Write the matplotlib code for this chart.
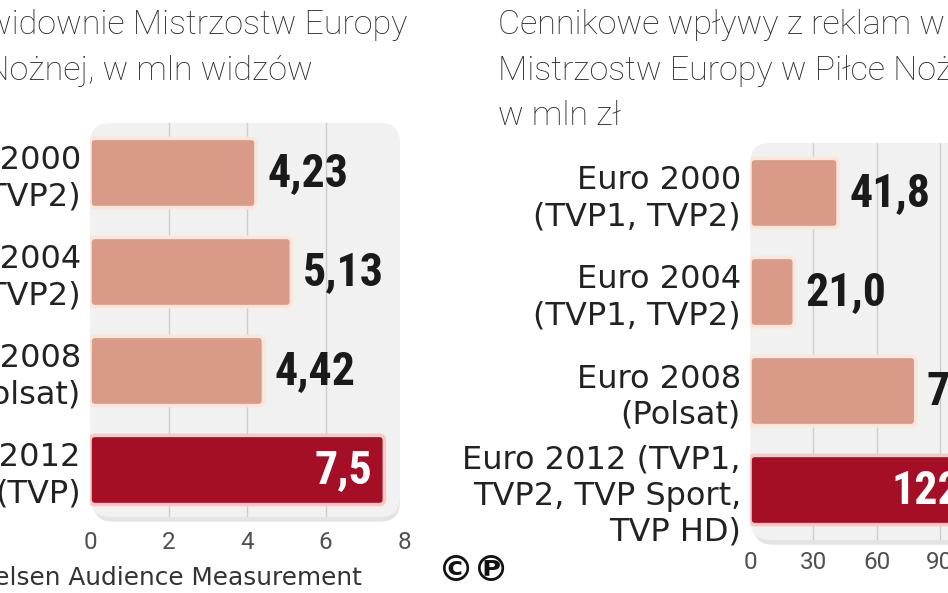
import numpy as np
import matplotlib
matplotlib.use('Agg')
from matplotlib import pyplot as plt
from matplotlib import font_manager as fm
from matplotlib.patches import FancyBboxPatch

W, H = 948, 593

# data
cats_left = ['Euro 2000\n(TVP1, TVP2)', 'Euro 2004\n(TVP1, TVP2)',
             'Euro 2008\n(Polsat)', 'Euro 2012\n(TVP)']
viewers = [4.23, 5.13, 4.42, 7.5]
viewers_lbl = ['4,23', '5,13', '4,42', '7,5']
ticks_left = [0, 2, 4, 6, 8]

cats_right = ['Euro 2000\n(TVP1, TVP2)', 'Euro 2004\n(TVP1, TVP2)',
              'Euro 2008\n(Polsat)', 'Euro 2012 (TVP1,\nTVP2, TVP Sport,\nTVP HD)']
revenue = [41.8, 21.0, 78.6, 122.6]
revenue_lbl = ['41,8', '21,0', '78,6', '122,6']
ticks_right = [0, 30, 60, 90, 120]

highlight = [False, False, False, True]

names = {f.name for f in fm.fontManager.ttflist}
def pick(*cands):
	for n in cands:
		if n in names:
			return n
	return 'DejaVu Sans'

COND = pick('Roboto Condensed', 'Liberation Sans Narrow', 'DejaVu Sans')
TITLE = pick('Roboto', 'Lato', 'DejaVu Sans')
CAT = 'DejaVu Sans'
cond_size = 33 if COND != 'DejaVu Sans' else 26

SALMON = '#D99B87'
DARK = '#A50F26'

def box(x0, y0, x1, y1):
	return [x0 / W, 1 - y1 / H, (x1 - x0) / W, (y1 - y0) / H]

fig = plt.figure(figsize=(W / 100, H / 100), dpi=100)

def panel(rect, panel_w, vals, lbls, cats, ticks, xmax, ylim, tickpad):
	ax = fig.add_axes(box(*rect))
	ax.set_xlim(0, xmax)
	ax.set_ylim(*ylim)
	ax.set_facecolor('none')
	for s in ax.spines.values():
		s.set_visible(False)
	axw = rect[2] - rect[0]
	axh = rect[3] - rect[1]
	xpx = axw / xmax
	ypx = axh / abs(ylim[0] - ylim[1])
	# soft shadow under the panel
	sh = FancyBboxPatch((0.01, -0.012), panel_w - 0.01, 1,
		boxstyle='round,pad=0,rounding_size=%f' % (20 / axw),
		mutation_aspect=axw / axh, transform=ax.transAxes,
		fc='#E4E4E4', ec='none', zorder=0, clip_on=False)
	ax.add_patch(sh)
	bg = FancyBboxPatch((0, 0), panel_w, 1,
		boxstyle='round,pad=0,rounding_size=%f' % (20 / axw),
		mutation_aspect=axw / axh, transform=ax.transAxes,
		fc='#F1F1F1', ec='none', zorder=0, clip_on=False)
	ax.add_patch(bg)
	for t in ticks:
		if 0 < t < xmax:
			ax.axvline(t, color='#CDCDCD', lw=1, zorder=1)
	y = np.arange(len(vals))
	bars = ax.barh(y, vals, height=0.7)
	for b, hl, v, l in zip(bars, highlight, vals, lbls):
		x0, y0, w, h = b.get_x(), b.get_y(), b.get_width(), b.get_height()
		b.remove()
		p = FancyBboxPatch((x0, y0), w, h,
			boxstyle='round,pad=0,rounding_size=%f' % (5 / xpx),
			mutation_aspect=xpx / ypx,
			fc=DARK if hl else SALMON,
			ec='#F6C9C6' if hl else '#FBE6DC', lw=2.6, zorder=2)
		ax.add_patch(p)
		if hl:
			ax.annotate(l, (v, b.get_y() + h / 2), xytext=(-9, 0),
				textcoords='offset points', ha='right', va='center',
				color='white', fontsize=cond_size, family=COND,
				weight='bold', fontstretch='condensed', zorder=3)
		else:
			ax.annotate(l, (v, b.get_y() + h / 2), xytext=(8, 0),
				textcoords='offset points', ha='left', va='center',
				color='#1a1a1a', fontsize=cond_size, family=COND,
				weight='bold', fontstretch='condensed', zorder=3)
	ax.set_xticks(ticks)
	ax.set_xticklabels([str(t) for t in ticks], family=TITLE,
		fontsize=17.5, color='#505050')
	ax.tick_params(axis='x', length=0, pad=tickpad)
	ax.set_yticks(y)
	ax.set_yticklabels(cats, ha='right', family=CAT, fontsize=23,
		color='#222222', linespacing=1.22)
	ax.tick_params(axis='y', length=0, pad=6.5)
	return ax

panel((90, 123, 404, 517), 310 / 314, viewers, viewers_lbl, cats_left,
	ticks_left, 8, (3.475, -0.505), 10)
panel((750, 143, 1060, 540), 1.0, revenue, revenue_lbl, cats_right,
	ticks_right, 147, (3.505, -0.505), 8)

tkw = dict(family=TITLE, fontweight='light', fontsize=24.5, color='#2a2a2a',
	va='baseline')
fig.text(407 / W, 1 - 34 / H, 'Telewidownie Mistrzostw Europy', ha='right', **tkw)
fig.text(313 / W, 1 - 80 / H, 'w Piłce Nożnej, w mln widzów', ha='right', **tkw)
fig.text(498 / W, 1 - 34 / H, 'Cennikowe wpływy z reklam w czasie transmisji', ha='left', **tkw)
fig.text(498 / W, 1 - 80 / H, 'Mistrzostw Europy w Piłce Nożnej,', ha='left', **tkw)
fig.text(498 / W, 1 - 125 / H, 'w mln zł', ha='left', **tkw)

fig.text(362 / W, 1 - 585 / H, 'Źródło: Nielsen Audience Measurement',
	ha='right', va='baseline', family=CAT, fontsize=17.8, color='#333333')
ckw = dict(ha='left', va='center', family='DejaVu Sans', weight='bold',
	fontsize=26, color='#111111')
fig.text(438 / W, 1 - 571 / H, '©', **ckw)
fig.text(473 / W, 1 - 571 / H, '℗', **ckw)

fig.savefig('out.png', dpi=100)
